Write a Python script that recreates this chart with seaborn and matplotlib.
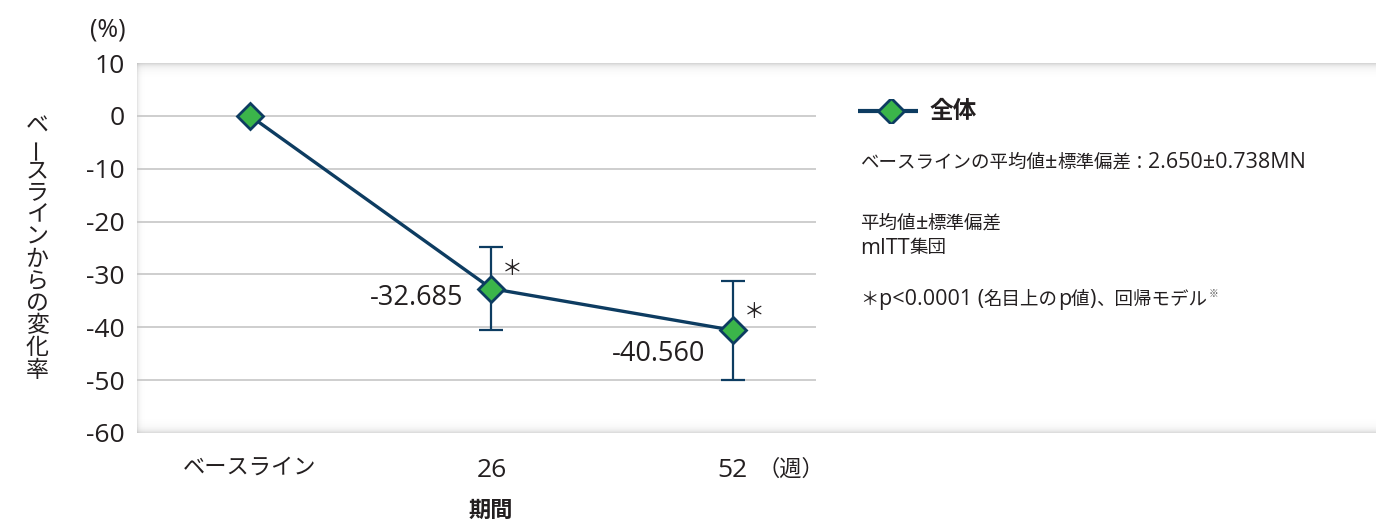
import numpy as np
import pandas as pd
import matplotlib
matplotlib.use("Agg")
import matplotlib.pyplot as plt
from matplotlib.patches import Rectangle
import seaborn as sns

# Data
periods = ["ベースライン", "26", "52"]
mean_change = [0.0, -32.685, -40.560]
sd_change = [0.0, 7.9, 9.35]
value_labels = ["", "-32.685", "-40.560"]
significant = [False, True, True]
y_ticks = [10, 0, -10, -20, -30, -40, -50, -60]

series_name = "全体"
baseline_note = "ベースラインの平均値±標準偏差 : 2.650±0.738MN"
notes = ["平均値±標準偏差", "mITT集団"]
pvalue_note = "＊p<0.0001 (名目上のp値)、回帰モデル"

NAVY = "#0d3c61"
GREEN = "#3bb54a"
TEXT = "#231f20"
GRID = "#c6c6c6"
LATIN = "Open Sans"
CJK = "Noto Sans CJK JP"

sns.set_style("white")
plt.rcParams["font.family"] = [LATIN, CJK, "DejaVu Sans"]
plt.rcParams["text.color"] = TEXT

W, H = 1376, 521
fig = plt.figure(figsize=(W / 100, H / 100), dpi=100, facecolor="white")


def fx(px):
    return px / W


def fy(py):
    return 1 - py / H


# Background panel: white with soft shaded edges
p_left, p_right, p_top, p_bot = 137, 1376, 63, 433
bg = fig.add_axes([0, 0, 1, 1], zorder=0)
bg.set_xlim(0, W)
bg.set_ylim(H, 0)
bg.axis("off")
bg.add_patch(Rectangle((p_left, p_top), p_right - p_left, p_bot - p_top,
                       facecolor="white", edgecolor="none"))


def band(x0, x1, y0, y1, profile, vertical=True):
    if vertical:
        arr = np.repeat(profile[:, None], 2, axis=1)
    else:
        arr = np.repeat(profile[None, :], 2, axis=0)
    rgba = np.zeros(arr.shape + (4,))
    rgba[..., :3] = 0.55
    rgba[..., 3] = arr
    bg.imshow(rgba, extent=(x0, x1, y1, y0), aspect="auto", interpolation="bilinear",
              zorder=1)


n = 14
top_prof = 0.35 * np.exp(-np.arange(n) / 3.5)
band(p_left, p_right, p_top, p_top + n, top_prof)
band(p_left, p_right, p_bot - n, p_bot, top_prof[::-1] * 0.85)
left_prof = 0.22 * np.exp(-np.arange(8) / 2.0)
band(p_left, p_left + 8, p_top, p_bot, left_prof, vertical=False)

# Main axes
a_left, a_right = 137, 816
ax = fig.add_axes([fx(a_left), fy(p_bot), fx(a_right - a_left), (p_bot - p_top) / H], zorder=1)
ax.patch.set_alpha(0)

df = pd.DataFrame({"pos": np.arange(len(periods)), "change": mean_change})

for v in [0, -10, -20, -30, -40, -50]:
    ax.axhline(v, color=GRID, lw=1.2, zorder=1)

ax.errorbar(df["pos"][1:], df["change"][1:], yerr=sd_change[1:], fmt="none",
            ecolor=NAVY, elinewidth=1.6, capsize=8.5, capthick=1.6, zorder=2)

sns.lineplot(data=df, x="pos", y="change", ax=ax, color=NAVY, lw=2.4,
             marker="D", markersize=13, markerfacecolor=GREEN,
             markeredgecolor=NAVY, markeredgewidth=2, zorder=3, legend=False)

ax.set_xlim(-0.468, 2.344)
ax.set_ylim(-60, 10)
ax.set_yticks(y_ticks)
ax.set_yticklabels([str(t) for t in y_ticks], fontsize=19)
ax.set_xticks(df["pos"])
ax.set_xticklabels(periods)
for lbl, txt in zip(ax.get_xticklabels(), periods):
    lbl.set_fontsize(19 if txt.isdigit() else 16)
ax.tick_params(axis="y", length=0, pad=9, colors=TEXT)
ax.tick_params(axis="x", direction="inout", length=16, width=1, color="#333333",
               pad=10, labelcolor=TEXT)
for s in ax.spines.values():
    s.set_visible(False)
ax.set_xlabel("")
ax.set_ylabel("")

# Value labels and significance markers
for i, (m, lab, sig) in enumerate(zip(mean_change, value_labels, significant)):
    if lab:
        ax.annotate(lab, (i, m), xytext=(-28, -9 if i == 1 else -24),
                    textcoords="offset pixels", ha="right", va="center",
                    fontsize=19.5)
    if sig:
        ax.annotate("＊", (i, m), xytext=(21, 20 if i == 1 else 18),
                    textcoords="offset pixels", ha="center", va="center",
                    fontsize=15, family=[CJK])

# Axis annotations
fig.text(fx(108), fy(30), "(%)", fontsize=18, ha="center", va="center")
fig.text(fx(791), fy(469), "（週）", fontsize=16, ha="center", va="center", family=[CJK])
fig.text(fx(491), fy(510), "期間", fontsize=16, ha="center", va="center", weight="bold",
         family=[CJK])

ylabel = "ベースラインからの変化率"
for k, ch in enumerate(ylabel):
    fig.text(fx(37), fy(126 + k * 22.2), ch, fontsize=16.5, ha="center", va="center",
             family=[CJK], rotation=90 if ch == "ー" else 0)

# Legend entry
leg = fig.add_axes([fx(858), fy(123), fx(60), 24 / H], zorder=2)
leg.plot([0, 1], [0, 0], color=NAVY, lw=3)
leg.plot([0.55], [0], marker="D", markersize=13, markerfacecolor=GREEN,
         markeredgecolor=NAVY, markeredgewidth=2)
leg.set_xlim(0, 1)
leg.set_ylim(-1, 1)
leg.axis("off")
fig.text(fx(930), fy(111), series_name, fontsize=17, ha="left", va="center", weight="bold",
         family=[CJK])

# Notes: Latin runs a little larger than Japanese runs
renderer = fig.canvas.get_renderer()


def split_runs(s):
    runs = []
    for ch in s:
        latin = ord(ch) < 0x2300
        if runs and runs[-1][1] == latin:
            runs[-1][0] += ch
        else:
            runs.append([ch, latin])
    return runs


def draw_note(x_px, y_px, s, latin_size=15.5, cjk_size=13.3):
    x = x_px
    for chunk, latin in split_runs(s):
        t = fig.text(fx(x), fy(y_px), chunk, ha="left", va="center",
                     fontsize=latin_size if latin else cjk_size,
                     family=[LATIN, CJK] if latin else [CJK, LATIN])
        x += t.get_window_extent(renderer).width
    return x


draw_note(860, 163, baseline_note)
draw_note(860, 224, notes[0])
draw_note(860, 248, notes[1])
end_x = draw_note(860, 300, pvalue_note)
fig.text(fx(end_x + 2), fy(294), "※", fontsize=7, ha="left", va="center",
         color="#555555", family=[CJK])

fig.savefig("out.png", dpi=100)
